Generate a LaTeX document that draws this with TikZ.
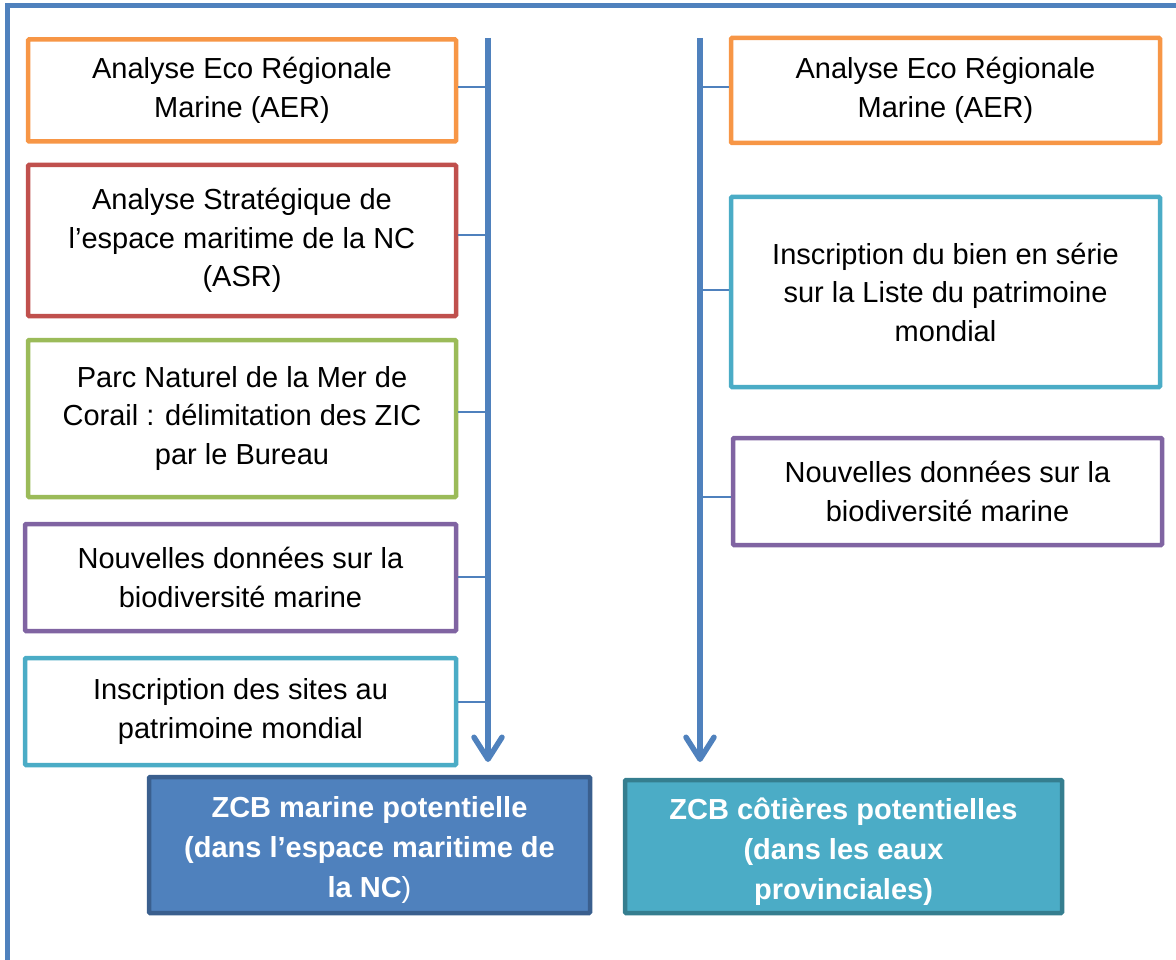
\documentclass[tikz,border=0pt]{standalone}
\usepackage{fontspec}
\setmainfont{Liberation Sans}
\usetikzlibrary{arrows.meta}
\definecolor{cBlue}{HTML}{4F81BD}
\definecolor{cBlueDk}{HTML}{3A5F8E}
\definecolor{cOrange}{HTML}{F79646}
\definecolor{cRed}{HTML}{C0504D}
\definecolor{cGreen}{HTML}{9BBB59}
\definecolor{cPurple}{HTML}{8064A2}
\definecolor{cCyan}{HTML}{4BACC6}
\definecolor{cCyanDk}{HTML}{357E8F}
\tikzset{
  srcbox/.style={draw=#1, line width=4.5pt, fill=white, rectangle, rounded corners=1pt,
    align=center, inner sep=0pt, font=\fontsize{29}{38.5}\selectfont},
  resbox/.style={draw=#1, line width=4.5pt, rectangle, rounded corners=1pt},
  restext/.style={align=center, inner sep=0pt, text=white, yshift=-5pt,
    font=\fontsize{29}{40}\selectfont\bfseries},
  flow/.style={draw=cBlue, line width=5.5pt, -{Straight Barb[length=22pt,width=28pt,round]}},
  link/.style={draw=cBlue, line width=2pt},
  frame/.style={draw=cBlue, line width=4.5pt}
}
\begin{document}
\begin{tikzpicture}[x=1pt,y=-1pt]
\useasboundingbox (0,0) rectangle (1176,960);
% outer frame (only top and left visible)
\coordinate (fTR) at (1180,5.5);
\coordinate (fTL) at (7.5,5.5);
\coordinate (fBL) at (7.5,965);
\draw[frame] (fTR) -- (fTL) -- (fBL);

% left column
\node[srcbox=cOrange, minimum width=428, minimum height=102] (b1) at (242,90.5)
  {Analyse Eco Régionale\\Marine (AER)};
\node[srcbox=cRed, minimum width=428, minimum height=151] (b2) at (242,240.5)
  {Analyse Stratégique de\\l’espace maritime de la NC\\(ASR)};
\node[srcbox=cGreen, minimum width=428, minimum height=157] (b3) at (242,418.5)
  {Parc Naturel de la Mer de\\Corail : délimitation des ZIC\\par le Bureau};
\node[srcbox=cPurple, minimum width=431, minimum height=107] (b4) at (240.5,577.5)
  {Nouvelles données sur la\\biodiversité marine};
\node[srcbox=cCyan, minimum width=431, minimum height=107] (b5) at (240.5,711.5)
  {Inscription des sites au\\patrimoine mondial};

% right column
\node[srcbox=cOrange, minimum width=429, minimum height=105] (r1) at (945.5,90.5)
  {Analyse Eco Régionale\\Marine (AER)};
\node[srcbox=cCyan, minimum width=429, minimum height=190] (r2) at (945.5,292)
  {Inscription du bien en série\\sur la Liste du patrimoine\\mondial};
\node[srcbox=cPurple, minimum width=429, minimum height=107] (r3) at (947.5,491.5)
  {Nouvelles données sur la\\biodiversité marine};

% result boxes
\node[resbox=cBlueDk, fill=cBlue, minimum width=441, minimum height=136,
  label={[restext]center:{ZCB marine potentielle\\(dans l’espace maritime de\\la NC\mdseries)}}] (z1) at (369.5,845) {};
\node[resbox=cCyanDk, fill=cCyan, minimum width=437, minimum height=133,
  label={[restext]center:{ZCB côtières potentielles\\(dans les eaux\\provinciales)}}] (z2) at (843.5,846.5) {};

% main flow arrows
\coordinate (lTop) at (488,38);
\coordinate (lEnd) at (488,762);
\coordinate (rTop) at (700,38);
\coordinate (rEnd) at (700,762);
\draw[flow] (lTop) -- (lEnd);
\draw[flow] (rTop) -- (rEnd);

% connectors left
\draw[link] ([yshift=3.5pt]b1.east) -- ([yshift=3.5pt]b1.east -| lTop);
\draw[link] ([yshift=5.5pt]b2.east) -- ([yshift=5.5pt]b2.east -| lTop);
\draw[link] ([yshift=6.5pt]b3.east) -- ([yshift=6.5pt]b3.east -| lTop);
\draw[link] ([yshift=0.5pt]b4.east) -- ([yshift=0.5pt]b4.east -| lTop);
\draw[link] ([yshift=9.5pt]b5.east) -- ([yshift=9.5pt]b5.east -| lTop);

% connectors right
\draw[link] ([yshift=3.5pt]r1.west) -- ([yshift=3.5pt]r1.west -| rTop);
\draw[link] ([yshift=2pt]r2.west) -- ([yshift=2pt]r2.west -| rTop);
\draw[link] ([yshift=-5.5pt]r3.west) -- ([yshift=-5.5pt]r3.west -| rTop);
\end{tikzpicture}
\end{document}
